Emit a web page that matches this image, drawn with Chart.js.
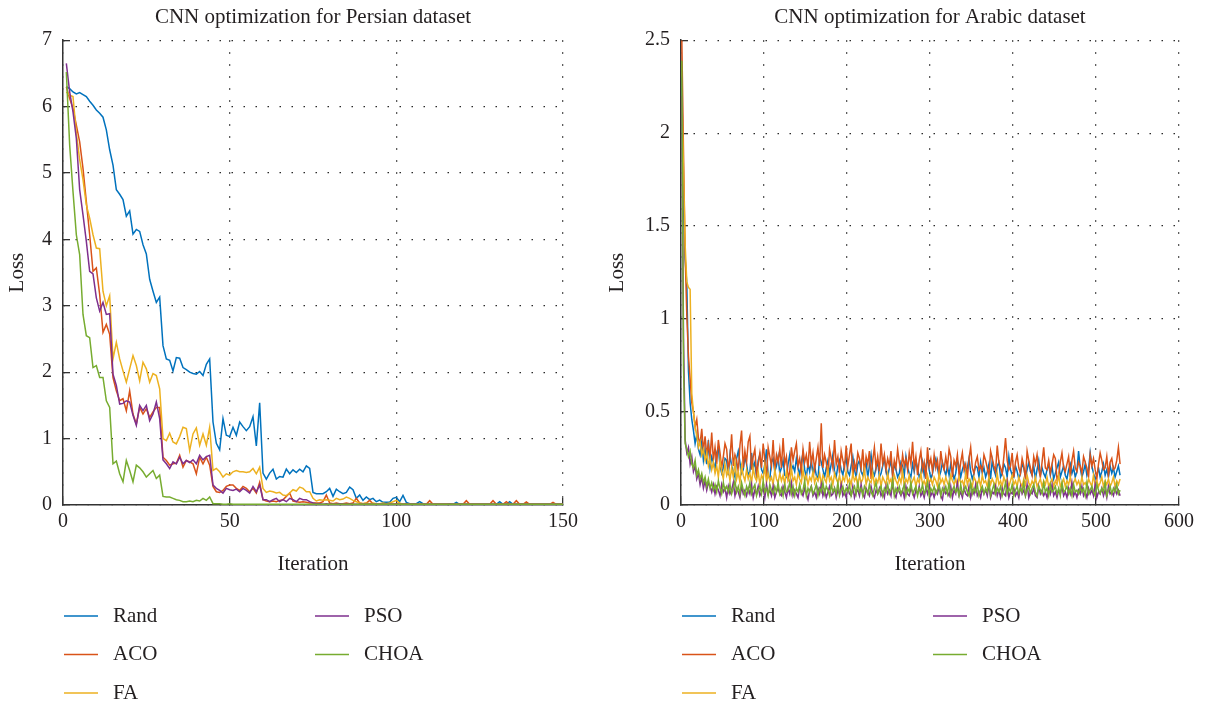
<!DOCTYPE html>
<html>
<head>
<meta charset="utf-8">
<title>CNN optimization</title>
<script src="https://cdn.jsdelivr.net/npm/chart.js@4.4.1/dist/chart.umd.min.js"></script>
<style>
  html, body { margin: 0; padding: 0; background: #fff; }
  #wrap { display: flex; width: 1208px; height: 707px; }
  .box { position: relative; width: 604px; height: 707px; }
</style>
</head>
<body>
<div id="wrap">
  <div class="box"><canvas id="persian"></canvas></div>
  <div class="box"><canvas id="arabic"></canvas></div>
</div>
<script>
// series names and colours (same order in both panels)
const seriesNames = ['Rand', 'ACO', 'FA', 'PSO', 'CHOA'];
const seriesColors = ['#0072BD', '#D95319', '#EDB120', '#7E2F8E', '#77AC30'];

// Persian panel: loss per iteration, iterations 1..150
const persRand = [
  6.3, 6.27, 6.22, 6.19, 6.21, 6.18, 6.15, 6.08, 6.02, 5.95,
  5.9, 5.84, 5.65, 5.35, 5.12, 4.75, 4.68, 4.6, 4.35, 4.43,
  4.08, 4.15, 4.12, 3.92, 3.78, 3.4, 3.22, 3.05, 3.13, 2.4,
  2.2, 2.18, 2.02, 2.22, 2.21, 2.07, 2.04, 2.0, 1.98, 1.97,
  2.01, 1.95, 2.12, 2.2, 1.25, 0.93, 0.83, 1.3, 1.05, 1.03,
  1.17, 1.05, 1.25, 1.18, 1.12, 1.18, 1.33, 0.89, 1.54, 0.48,
  0.39, 0.48, 0.54, 0.39, 0.43, 0.42, 0.54, 0.47, 0.53, 0.49,
  0.54, 0.5, 0.59, 0.55, 0.19, 0.17, 0.17, 0.17, 0.2, 0.25,
  0.13, 0.24, 0.2, 0.17, 0.19, 0.27, 0.23, 0.1, 0.15, 0.07,
  0.12, 0.08, 0.1, 0.05, 0.075, 0.04, 0.04, 0.04, 0.1, 0.115,
  0.05, 0.145, 0.04, 0.02, 0.02, 0.02, 0.05, 0.02, 0.01, 0.01,
  0.01, 0.01, 0.01, 0.01, 0.01, 0.02, 0.01, 0.04, 0.01, 0.01,
  0.01, 0.01, 0.01, 0.01, 0.01, 0.01, 0.01, 0.01, 0.01, 0.01,
  0.05, 0.01, 0.01, 0.05, 0.01, 0.01, 0.01, 0.01, 0.01, 0.01,
  0.01, 0.01, 0.01, 0.01, 0.01, 0.01, 0.01, 0.01, 0.01, 0.01
];
const persACO = [
  6.3, 6.12, 5.97, 5.72, 5.47, 5.07, 4.57, 4.07, 3.52, 3.57,
  3.17, 2.6, 2.72, 2.57, 1.92, 1.72, 1.57, 1.6, 1.42, 1.72,
  1.37, 1.22, 1.47, 1.37, 1.45, 1.32, 1.4, 1.47, 1.47, 0.72,
  0.67, 0.6, 0.62, 0.63, 0.75, 0.57, 0.67, 0.65, 0.62, 0.47,
  0.72, 0.62, 0.72, 0.6, 0.28, 0.2, 0.19, 0.22, 0.28, 0.3,
  0.3, 0.25, 0.22, 0.28, 0.25, 0.2, 0.25, 0.18, 0.34, 0.08,
  0.06, 0.05, 0.06, 0.05, 0.07, 0.08, 0.13, 0.18, 0.06, 0.05,
  0.04, 0.05, 0.04, 0.03, 0.03, 0.03, 0.03, 0.05, 0.15, 0.03,
  0.02, 0.03, 0.02, 0.02, 0.03, 0.02, 0.03, 0.1, 0.03, 0.02,
  0.03, 0.07, 0.02, 0.02, 0.01, 0.02, 0.01, 0.02, 0.01, 0.02,
  0.01, 0.01, 0.02, 0.01, 0.01, 0.01, 0.01, 0.01, 0.01, 0.065,
  0.01, 0.01, 0.01, 0.01, 0.01, 0.01, 0.01, 0.01, 0.01, 0.01,
  0.065, 0.01, 0.01, 0.01, 0.01, 0.01, 0.01, 0.01, 0.065, 0.01,
  0.01, 0.01, 0.05, 0.01, 0.01, 0.065, 0.01, 0.01, 0.045, 0.01,
  0.01, 0.01, 0.01, 0.01, 0.01, 0.01, 0.04, 0.01, 0.01, 0.01
];
const persFA = [
  6.22, 6.17, 6.15, 5.6, 5.2, 4.9, 4.52, 4.32, 4.07, 3.87,
  3.86, 3.22, 3.0, 3.15, 2.2, 2.45, 2.2, 2.02, 1.85, 2.05,
  2.25, 2.1, 1.87, 2.15, 2.05, 1.85, 1.98, 1.95, 1.75, 1.0,
  0.97, 1.08, 0.95, 0.92, 1.03, 1.17, 1.15, 0.82, 1.07, 1.16,
  0.9, 1.07, 0.9, 1.17, 0.52, 0.55, 0.5, 0.42, 0.47, 0.45,
  0.5, 0.52, 0.5, 0.5, 0.49, 0.5, 0.55, 0.47, 0.57, 0.25,
  0.19, 0.21, 0.2, 0.18, 0.19, 0.15, 0.14, 0.18, 0.23, 0.21,
  0.27, 0.25, 0.2, 0.2, 0.1, 0.06, 0.08, 0.07, 0.08, 0.07,
  0.06, 0.1, 0.08, 0.09, 0.12, 0.1, 0.07, 0.05, 0.03, 0.02,
  0.03, 0.02, 0.03, 0.02, 0.02, 0.03, 0.02, 0.03, 0.05, 0.07,
  0.03, 0.01, 0.01, 0.01, 0.01, 0.01, 0.01, 0.01, 0.01, 0.01,
  0.01, 0.01, 0.01, 0.01, 0.01, 0.01, 0.01, 0.01, 0.01, 0.01,
  0.01, 0.01, 0.01, 0.01, 0.01, 0.01, 0.01, 0.01, 0.01, 0.01,
  0.01, 0.01, 0.01, 0.01, 0.01, 0.01, 0.01, 0.01, 0.01, 0.01,
  0.01, 0.01, 0.01, 0.01, 0.01, 0.01, 0.01, 0.01, 0.01, 0.01
];
const persPSO = [
  6.65, 6.22, 5.92, 5.52, 4.75, 4.37, 3.97, 3.52, 3.48, 3.12,
  2.92, 3.05, 2.87, 2.88, 1.97, 1.8, 1.52, 1.53, 1.57, 1.55,
  1.35, 1.2, 1.5, 1.42, 1.5, 1.27, 1.37, 1.55, 1.3, 0.68,
  0.62, 0.55, 0.65, 0.62, 0.72, 0.62, 0.67, 0.64, 0.68, 0.62,
  0.75, 0.68, 0.73, 0.75, 0.3, 0.25, 0.22, 0.18, 0.25, 0.23,
  0.22, 0.24, 0.2, 0.25, 0.22, 0.18, 0.28, 0.2, 0.3, 0.08,
  0.08, 0.05, 0.08, 0.1, 0.05, 0.08, 0.05, 0.1, 0.08, 0.05,
  0.1, 0.08, 0.08, 0.05, 0.03, 0.02, 0.02, 0.01, 0.02, 0.01,
  0.01, 0.01, 0.02, 0.01, 0.01, 0.01, 0.01, 0.01, 0.01, 0.01,
  0.01, 0.01, 0.01, 0.01, 0.01, 0.01, 0.01, 0.01, 0.01, 0.01,
  0.01, 0.01, 0.01, 0.01, 0.01, 0.01, 0.01, 0.01, 0.01, 0.01,
  0.01, 0.01, 0.01, 0.01, 0.01, 0.01, 0.01, 0.01, 0.01, 0.01,
  0.01, 0.01, 0.01, 0.01, 0.01, 0.01, 0.01, 0.01, 0.01, 0.01,
  0.01, 0.01, 0.01, 0.01, 0.01, 0.01, 0.01, 0.01, 0.01, 0.01,
  0.01, 0.01, 0.01, 0.01, 0.01, 0.01, 0.01, 0.01, 0.01, 0.01
];
const persCHOA = [
  6.52, 5.42, 4.72, 4.07, 3.77, 2.87, 2.55, 2.52, 2.07, 2.1,
  1.92, 1.92, 1.57, 1.47, 0.62, 0.66, 0.47, 0.35, 0.67, 0.52,
  0.35, 0.6, 0.56, 0.5, 0.42, 0.47, 0.52, 0.4, 0.45, 0.13,
  0.12, 0.12, 0.1, 0.08, 0.07, 0.05, 0.05, 0.06, 0.05, 0.07,
  0.06, 0.1, 0.07, 0.12, 0.02, 0.02, 0.02, 0.01, 0.01, 0.02,
  0.01, 0.01, 0.01, 0.01, 0.01, 0.01, 0.01, 0.01, 0.01, 0.01,
  0.01, 0.01, 0.01, 0.01, 0.01, 0.01, 0.01, 0.01, 0.01, 0.01,
  0.01, 0.01, 0.01, 0.01, 0.01, 0.01, 0.01, 0.01, 0.01, 0.01,
  0.01, 0.01, 0.01, 0.01, 0.01, 0.01, 0.01, 0.01, 0.01, 0.01,
  0.01, 0.01, 0.01, 0.01, 0.01, 0.01, 0.01, 0.01, 0.01, 0.01,
  0.01, 0.01, 0.01, 0.01, 0.01, 0.01, 0.01, 0.01, 0.01, 0.01,
  0.01, 0.01, 0.01, 0.01, 0.01, 0.01, 0.01, 0.01, 0.01, 0.01,
  0.01, 0.01, 0.01, 0.01, 0.01, 0.01, 0.01, 0.01, 0.01, 0.01,
  0.01, 0.01, 0.01, 0.01, 0.01, 0.01, 0.01, 0.01, 0.01, 0.01,
  0.01, 0.01, 0.01, 0.01, 0.01, 0.01, 0.01, 0.01, 0.01, 0.01
];

// Arabic panel: loss read every 2nd iteration, iterations 1, 3, ... 529
const arabStep = 2;
const arabRand = [
  2.3, 1.6, 1.32, 1.19, 0.72, 0.55, 0.46, 0.4, 0.33, 0.38, 0.3, 0.27, 0.34, 0.24, 0.3, 0.22, 0.35, 0.2, 0.26, 0.23,
  0.19, 0.28, 0.31, 0.21, 0.17, 0.2, 0.25, 0.24, 0.16, 0.27, 0.21, 0.18, 0.15, 0.25, 0.29, 0.23, 0.17, 0.19, 0.26, 0.22,
  0.16, 0.18, 0.28, 0.2, 0.23, 0.15, 0.24, 0.27, 0.19, 0.17, 0.22, 0.3, 0.16, 0.14, 0.23, 0.25, 0.18, 0.21, 0.26, 0.17,
  0.2, 0.24, 0.16, 0.15, 0.22, 0.27, 0.19, 0.21, 0.18, 0.25, 0.2, 0.16, 0.23, 0.28, 0.19, 0.15, 0.22, 0.18, 0.24, 0.17,
  0.21, 0.16, 0.14, 0.26, 0.23, 0.19, 0.15, 0.2, 0.24, 0.17, 0.22, 0.27, 0.18, 0.15, 0.21, 0.24, 0.19, 0.16, 0.22, 0.25,
  0.18, 0.16, 0.21, 0.26, 0.19, 0.15, 0.22, 0.24, 0.18, 0.16, 0.2, 0.23, 0.15, 0.21, 0.27, 0.18, 0.16, 0.2, 0.23, 0.15,
  0.17, 0.21, 0.25, 0.18, 0.15, 0.2, 0.24, 0.16, 0.22, 0.19, 0.15, 0.17, 0.23, 0.21, 0.16, 0.26, 0.2, 0.17, 0.15, 0.22,
  0.18, 0.24, 0.2, 0.15, 0.17, 0.23, 0.16, 0.21, 0.25, 0.19, 0.14, 0.17, 0.22, 0.25, 0.2, 0.15, 0.18, 0.23, 0.19, 0.16,
  0.21, 0.16, 0.22, 0.18, 0.14, 0.17, 0.24, 0.21, 0.15, 0.19, 0.22, 0.16, 0.2, 0.25, 0.18, 0.14, 0.17, 0.21, 0.2, 0.15,
  0.23, 0.17, 0.2, 0.15, 0.18, 0.22, 0.14, 0.24, 0.19, 0.16, 0.21, 0.23, 0.15, 0.17, 0.22, 0.2, 0.15, 0.26, 0.19, 0.16,
  0.15, 0.21, 0.18, 0.14, 0.17, 0.22, 0.2, 0.15, 0.19, 0.23, 0.18, 0.16, 0.21, 0.14, 0.19, 0.24, 0.16, 0.2, 0.17, 0.15,
  0.19, 0.22, 0.16, 0.21, 0.14, 0.17, 0.2, 0.23, 0.15, 0.18, 0.21, 0.16, 0.14, 0.19, 0.22, 0.17, 0.2, 0.15, 0.18, 0.29,
  0.2, 0.15, 0.18, 0.22, 0.16, 0.19, 0.28, 0.21, 0.17, 0.14, 0.16, 0.2, 0.15, 0.18, 0.22, 0.16, 0.19, 0.15, 0.21, 0.17,
  0.2, 0.15, 0.18, 0.21, 0.16
];
const arabACO = [
  2.5, 1.9, 1.35, 1.02, 0.8, 0.68, 0.55, 0.5, 0.42, 0.46, 0.36, 0.33, 0.41, 0.29, 0.37, 0.27, 0.33, 0.25, 0.39, 0.24,
  0.31, 0.22, 0.35, 0.28, 0.2, 0.26, 0.33, 0.3, 0.19, 0.25, 0.38, 0.21, 0.27, 0.24, 0.18, 0.32, 0.4, 0.2, 0.29, 0.23,
  0.34, 0.37, 0.19, 0.26, 0.3, 0.17, 0.22, 0.28, 0.2, 0.33, 0.24, 0.15, 0.31, 0.26, 0.21, 0.35, 0.19, 0.27, 0.23, 0.3,
  0.2, 0.36, 0.22, 0.26, 0.14, 0.18, 0.31, 0.24, 0.29, 0.33, 0.21, 0.25, 0.18, 0.3, 0.23, 0.27, 0.2, 0.34, 0.22, 0.28,
  0.19, 0.25, 0.31, 0.21, 0.44, 0.2, 0.27, 0.23, 0.15, 0.3, 0.25, 0.2, 0.35, 0.22, 0.26, 0.17, 0.29, 0.24, 0.2, 0.32,
  0.21, 0.27, 0.33, 0.15, 0.23, 0.19, 0.28, 0.25, 0.2, 0.3, 0.17, 0.26, 0.22, 0.29, 0.14, 0.24, 0.31, 0.2, 0.26, 0.18,
  0.33, 0.22, 0.27, 0.19, 0.25, 0.21, 0.29, 0.15, 0.24, 0.2, 0.3, 0.23, 0.18, 0.27, 0.21, 0.25, 0.19, 0.28, 0.22, 0.34,
  0.2, 0.26, 0.16, 0.24, 0.29, 0.19, 0.23, 0.14, 0.31, 0.21, 0.25, 0.18, 0.27, 0.2, 0.24, 0.16, 0.29, 0.22, 0.19, 0.26,
  0.2, 0.3, 0.26, 0.15, 0.24, 0.21, 0.27, 0.16, 0.23, 0.28, 0.19, 0.22, 0.14, 0.25, 0.31, 0.2, 0.17, 0.23, 0.26, 0.19,
  0.21, 0.18, 0.27, 0.24, 0.2, 0.15, 0.29, 0.25, 0.21, 0.18, 0.32, 0.23, 0.2, 0.17, 0.26, 0.36, 0.24, 0.19, 0.21, 0.28,
  0.15, 0.23, 0.27, 0.2, 0.17, 0.25, 0.21, 0.14, 0.29, 0.24, 0.2, 0.16, 0.26, 0.22, 0.27, 0.19, 0.15, 0.23, 0.31, 0.2,
  0.19, 0.24, 0.17, 0.22, 0.27, 0.25, 0.14, 0.16, 0.23, 0.28, 0.2, 0.18, 0.22, 0.26, 0.15, 0.24, 0.29, 0.2, 0.18, 0.23,
  0.21, 0.17, 0.26, 0.23, 0.2, 0.15, 0.27, 0.21, 0.25, 0.19, 0.14, 0.22, 0.28, 0.24, 0.19, 0.2, 0.26, 0.16, 0.23, 0.25,
  0.19, 0.2, 0.24, 0.31, 0.22
];
const arabFA = [
  2.2, 1.8, 1.4, 1.2, 1.17, 1.16, 0.6, 0.5, 0.42, 0.37, 0.31, 0.34, 0.27, 0.3, 0.24, 0.28, 0.21, 0.25, 0.19, 0.23,
  0.17, 0.21, 0.15, 0.24, 0.18, 0.14, 0.22, 0.16, 0.19, 0.13, 0.2, 0.15, 0.23, 0.14, 0.18, 0.12, 0.21, 0.16, 0.13, 0.19,
  0.14, 0.17, 0.12, 0.2, 0.15, 0.13, 0.18, 0.11, 0.16, 0.14, 0.21, 0.12, 0.17, 0.13, 0.15, 0.11, 0.19, 0.14, 0.12, 0.17,
  0.13, 0.16, 0.11, 0.18, 0.14, 0.12, 0.2, 0.13, 0.15, 0.11, 0.17, 0.14, 0.12, 0.19, 0.13, 0.16, 0.11, 0.15, 0.13, 0.18,
  0.12, 0.15, 0.13, 0.17, 0.11, 0.16, 0.14, 0.12, 0.19, 0.13, 0.15, 0.11, 0.17, 0.14, 0.12, 0.16, 0.1, 0.15, 0.13, 0.18,
  0.12, 0.14, 0.11, 0.17, 0.13, 0.15, 0.1, 0.16, 0.12, 0.14, 0.19, 0.11, 0.15, 0.13, 0.12, 0.17, 0.11, 0.14, 0.12, 0.16,
  0.1, 0.15, 0.13, 0.11, 0.17, 0.12, 0.14, 0.1, 0.16, 0.13, 0.11, 0.15, 0.12, 0.18, 0.1, 0.14, 0.12, 0.16, 0.11, 0.13,
  0.15, 0.1, 0.14, 0.12, 0.17, 0.11, 0.13, 0.1, 0.16, 0.12, 0.14, 0.11, 0.15, 0.13, 0.1, 0.17, 0.12, 0.14, 0.11, 0.15,
  0.12, 0.1, 0.16, 0.13, 0.11, 0.14, 0.1, 0.15, 0.12, 0.13, 0.1, 0.17, 0.11, 0.14, 0.12, 0.1, 0.15, 0.13, 0.11, 0.14,
  0.1, 0.16, 0.12, 0.13, 0.1, 0.15, 0.11, 0.14, 0.12, 0.1, 0.17, 0.11, 0.13, 0.1, 0.15, 0.12, 0.14, 0.1, 0.13, 0.16,
  0.11, 0.13, 0.1, 0.15, 0.12, 0.1, 0.14, 0.11, 0.16, 0.12, 0.1, 0.13, 0.11, 0.15, 0.1, 0.12, 0.14, 0.1, 0.13, 0.11,
  0.15, 0.1, 0.12, 0.14, 0.1, 0.13, 0.11, 0.16, 0.1, 0.12, 0.14, 0.1, 0.13, 0.11, 0.15, 0.1, 0.12, 0.14, 0.11, 0.13,
  0.1, 0.15, 0.11, 0.12, 0.1, 0.14, 0.12, 0.1, 0.16, 0.11, 0.13, 0.1, 0.12, 0.15, 0.1, 0.13, 0.11, 0.14, 0.1, 0.12,
  0.15, 0.1, 0.13, 0.11, 0.14
];
const arabPSO = [
  2.2, 0.9, 0.35, 0.28, 0.31, 0.22, 0.26, 0.18, 0.21, 0.14, 0.17, 0.11, 0.15, 0.09, 0.13, 0.08, 0.12, 0.1, 0.07, 0.11,
  0.06, 0.1, 0.08, 0.05, 0.11, 0.07, 0.09, 0.04, 0.1, 0.06, 0.08, 0.12, 0.05, 0.09, 0.07, 0.04, 0.1, 0.06, 0.08, 0.05,
  0.09, 0.06, 0.11, 0.04, 0.08, 0.06, 0.1, 0.05, 0.07, 0.09, 0.04, 0.11, 0.06, 0.08, 0.05, 0.1, 0.04, 0.07, 0.09, 0.06,
  0.05, 0.1, 0.07, 0.04, 0.09, 0.06, 0.12, 0.05, 0.08, 0.06, 0.04, 0.1, 0.07, 0.05, 0.09, 0.06, 0.03, 0.08, 0.1, 0.05,
  0.07, 0.04, 0.09, 0.06, 0.11, 0.05, 0.08, 0.04, 0.07, 0.1, 0.05, 0.06, 0.09, 0.04, 0.08, 0.06, 0.11, 0.05, 0.07, 0.04,
  0.09, 0.06, 0.05, 0.1, 0.04, 0.07, 0.08, 0.05, 0.11, 0.06, 0.04, 0.09, 0.07, 0.05, 0.1, 0.06, 0.04, 0.08, 0.06, 0.09,
  0.05, 0.07, 0.04, 0.1, 0.06, 0.08, 0.05, 0.12, 0.06, 0.04, 0.09, 0.07, 0.05, 0.08, 0.04, 0.1, 0.06, 0.05, 0.09, 0.07,
  0.04, 0.08, 0.06, 0.1, 0.05, 0.07, 0.04, 0.09, 0.06, 0.11, 0.05, 0.07, 0.04, 0.08, 0.06, 0.1, 0.05, 0.03, 0.09, 0.06,
  0.07, 0.05, 0.1, 0.04, 0.08, 0.06, 0.12, 0.05, 0.07, 0.04, 0.09, 0.06, 0.05, 0.1, 0.04, 0.08, 0.06, 0.11, 0.05, 0.07,
  0.04, 0.09, 0.06, 0.08, 0.05, 0.11, 0.04, 0.07, 0.06, 0.1, 0.05, 0.08, 0.04, 0.09, 0.06, 0.05, 0.12, 0.04, 0.07, 0.06,
  0.09, 0.05, 0.07, 0.04, 0.1, 0.06, 0.08, 0.05, 0.11, 0.04, 0.07, 0.06, 0.09, 0.05, 0.04, 0.1, 0.06, 0.08, 0.05, 0.07,
  0.04, 0.09, 0.06, 0.11, 0.05, 0.07, 0.04, 0.08, 0.06, 0.1, 0.05, 0.07, 0.04, 0.09, 0.06, 0.12, 0.05, 0.07, 0.04, 0.08,
  0.06, 0.1, 0.05, 0.07, 0.04, 0.09, 0.06, 0.08, 0.05, 0.11, 0.04, 0.07, 0.06, 0.09, 0.05, 0.08, 0.04, 0.1, 0.06, 0.07,
  0.05, 0.09, 0.06, 0.08, 0.05
];
const arabCHOA = [
  2.39, 0.75, 0.33, 0.3, 0.26, 0.29, 0.22, 0.2, 0.24, 0.16, 0.19, 0.14, 0.17, 0.12, 0.15, 0.1, 0.14, 0.09, 0.12, 0.08,
  0.11, 0.07, 0.13, 0.09, 0.06, 0.12, 0.08, 0.1, 0.07, 0.11, 0.06, 0.09, 0.13, 0.07, 0.1, 0.06, 0.12, 0.08, 0.05, 0.1,
  0.07, 0.12, 0.06, 0.09, 0.11, 0.05, 0.08, 0.1, 0.06, 0.13, 0.07, 0.09, 0.05, 0.11, 0.08, 0.06, 0.1, 0.07, 0.12, 0.06,
  0.09, 0.05, 0.11, 0.07, 0.08, 0.12, 0.06, 0.1, 0.05, 0.09, 0.07, 0.11, 0.06, 0.08, 0.13, 0.05, 0.09, 0.07, 0.1, 0.06,
  0.08, 0.11, 0.05, 0.09, 0.07, 0.12, 0.06, 0.1, 0.08, 0.05, 0.11, 0.07, 0.09, 0.06, 0.12, 0.05, 0.08, 0.1, 0.06, 0.09,
  0.07, 0.11, 0.05, 0.08, 0.1, 0.06, 0.12, 0.07, 0.09, 0.05, 0.1, 0.08, 0.06, 0.11, 0.07, 0.05, 0.09, 0.12, 0.06, 0.08,
  0.1, 0.05, 0.09, 0.07, 0.11, 0.06, 0.08, 0.13, 0.05, 0.09, 0.07, 0.1, 0.06, 0.08, 0.11, 0.05, 0.09, 0.07, 0.12, 0.06,
  0.08, 0.1, 0.05, 0.09, 0.07, 0.11, 0.06, 0.08, 0.12, 0.05, 0.09, 0.07, 0.1, 0.06, 0.08, 0.11, 0.05, 0.09, 0.07, 0.1,
  0.06, 0.12, 0.05, 0.08, 0.1, 0.07, 0.09, 0.05, 0.11, 0.06, 0.08, 0.1, 0.07, 0.05, 0.12, 0.06, 0.09, 0.07, 0.11, 0.05,
  0.08, 0.1, 0.06, 0.09, 0.07, 0.12, 0.05, 0.08, 0.11, 0.06, 0.09, 0.07, 0.1, 0.05, 0.08, 0.12, 0.06, 0.09, 0.07, 0.11,
  0.05, 0.08, 0.1, 0.06, 0.09, 0.07, 0.12, 0.05, 0.08, 0.1, 0.06, 0.09, 0.11, 0.07, 0.05, 0.1, 0.08, 0.06, 0.12, 0.07,
  0.09, 0.05, 0.11, 0.07, 0.08, 0.1, 0.06, 0.09, 0.05, 0.12, 0.07, 0.08, 0.1, 0.06, 0.09, 0.05, 0.11, 0.07, 0.08, 0.06,
  0.1, 0.07, 0.09, 0.05, 0.12, 0.06, 0.08, 0.1, 0.07, 0.05, 0.11, 0.08, 0.06, 0.09, 0.07, 0.12, 0.05, 0.08, 0.1, 0.06,
  0.09, 0.07, 0.11, 0.06, 0.08
];

// tick values
const persXTicks = [0, 50, 100, 150];
const persYTicks = [0, 1, 2, 3, 4, 5, 6, 7];
const arabXTicks = [0, 100, 200, 300, 400, 500, 600];
const arabYTicks = [0, 0.5, 1, 1.5, 2, 2.5];

const FONT = '"Liberation Serif", "DejaVu Serif", serif';
const TEXT = '#231f20';
Chart.defaults.font.family = FONT;
Chart.defaults.color = TEXT;

// legend in two columns under the plot: Rand/ACO/FA, then PSO/CHOA
const columnLegend = {
  id: 'columnLegend',
  afterDraw(chart) {
    const { ctx, chartArea } = chart;
    ctx.save();
    ctx.font = '21px ' + FONT;
    ctx.textBaseline = 'middle';
    ctx.textAlign = 'left';
    chart.data.datasets.forEach((ds, i) => {
      const col = i < 3 ? 0 : 1;
      const row = i < 3 ? i : i - 3;
      const x = chartArea.left + 1 + col * 251;
      const y = chartArea.bottom + 111 + row * 38.5;
      ctx.strokeStyle = ds.borderColor;
      ctx.lineWidth = 1.6;
      ctx.beginPath();
      ctx.moveTo(x, y);
      ctx.lineTo(x + 34, y);
      ctx.stroke();
      ctx.fillStyle = TEXT;
      ctx.fillText(ds.label, x + 49, y);
    });
    ctx.restore();
  }
};

function axis(ticksArr, title, extra) {
  return Object.assign({
    type: 'linear',
    min: ticksArr[0],
    max: ticksArr[ticksArr.length - 1],
    afterBuildTicks: s => { s.ticks = ticksArr.map(v => ({ value: v })); },
    grid: {
      color: '#2a2a2a',
      lineWidth: 1.3,
      drawTicks: true,
      tickLength: -7,
      tickColor: '#333',
      tickWidth: 1.3
    },
    border: { display: true, color: '#333', width: 1.5, dash: [1.5, 10.5] },
    ticks: { font: { size: 20 }, color: TEXT, padding: 18, callback: v => String(v) },
    title: { display: true, text: title, font: { size: 21 }, color: TEXT }
  }, extra);
}

function makeChart(id, title, seriesList, step, xTicks, yTicks, yWidth, padRight, yTitlePad) {
  const datasets = seriesList.map((arr, i) => ({
    label: seriesNames[i],
    data: arr.map((v, k) => ({ x: 1 + k * step, y: v })),
    borderColor: seriesColors[i],
    backgroundColor: seriesColors[i],
    borderWidth: 1.5,
    pointRadius: 0,
    tension: 0,
    fill: false,
    order: seriesList.length - 1 - i
  }));

  const xAxis = axis(xTicks, 'Iteration', {
    afterFit: s => { s.height = 80; }
  });
  xAxis.ticks.padding = 12;
  xAxis.title.padding = { top: 0, bottom: 8 };

  const yAxis = axis(yTicks, 'Loss', {
    afterFit: s => { s.width = yWidth; }
  });
  yAxis.title.padding = { top: yTitlePad, bottom: 0 };

  return new Chart(document.getElementById(id), {
    type: 'line',
    data: { datasets },
    options: {
      responsive: true,
      maintainAspectRatio: false,
      animation: false,
      devicePixelRatio: 1,
      layout: { padding: { left: 0, right: padRight, top: 0, bottom: 122 } },
      plugins: {
        legend: { display: false },
        tooltip: { enabled: false },
        title: {
          display: true,
          text: title,
          fullSize: false,
          color: TEXT,
          font: { size: 21, weight: 'normal' },
          padding: { top: 5, bottom: 10 }
        }
      },
      scales: { x: xAxis, y: yAxis }
    },
    plugins: [columnLegend]
  });
}

makeChart('persian', 'CNN optimization for Persian dataset',
  [persRand, persACO, persFA, persPSO, persCHOA], 1,
  persXTicks, persYTicks, 63, 41, 5);

makeChart('arabic', 'CNN optimization for Arabic dataset',
  [arabRand, arabACO, arabFA, arabPSO, arabCHOA], arabStep,
  arabXTicks, arabYTicks, 77, 29, 1);
</script>
</body>
</html>
